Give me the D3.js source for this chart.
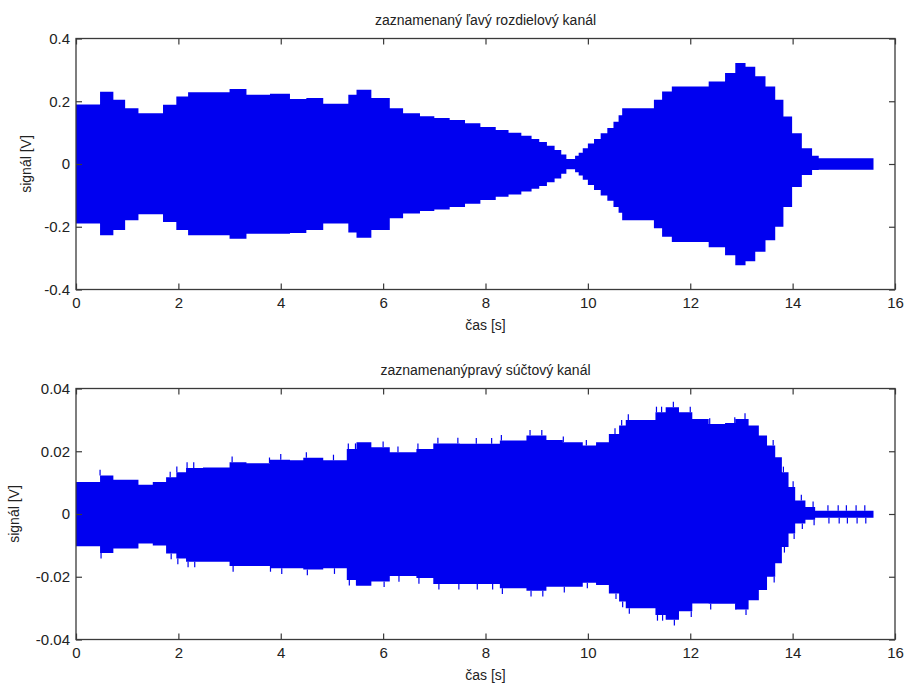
<!DOCTYPE html>
<html>
<head>
<meta charset="utf-8">
<script src="https://cdn.jsdelivr.net/npm/d3@7"></script>
<style>
  body { margin: 0; background: #fff; }
  text { font-family: "Liberation Sans", Arial, Helvetica, sans-serif; fill: #222; }
</style>
</head>
<body>
<div id="chart"></div>
<script>
// envelope breakpoints (step after) - top panel
const timeL = [0, 0.47, 0.73, 0.96, 1.22, 1.7, 1.96, 2.19, 3.0, 3.33, 3.79, 4.18, 4.5, 4.83, 5.32, 5.48, 5.77, 6.13, 6.39, 6.72, 7.0, 7.3, 7.6, 7.9, 8.2, 8.45, 8.7, 8.9, 9.05, 9.2, 9.35, 9.48, 9.58, 9.75, 9.82, 9.9, 10.0, 10.12, 10.25, 10.38, 10.5, 10.6, 10.67, 11.29, 11.45, 11.64, 12.36, 12.68, 12.88, 13.08, 13.27, 13.47, 13.66, 13.82, 13.99, 14.18, 14.38, 14.51, 15.58];
const upperL = [0.19, 0.23, 0.205, 0.178, 0.162, 0.189, 0.215, 0.229, 0.239, 0.221, 0.224, 0.207, 0.21, 0.192, 0.221, 0.237, 0.21, 0.178, 0.162, 0.152, 0.147, 0.14, 0.13, 0.118, 0.108, 0.1, 0.09, 0.08, 0.07, 0.058, 0.045, 0.03, 0.016, 0.026, 0.036, 0.05, 0.065, 0.08, 0.098, 0.115, 0.135, 0.155, 0.178, 0.205, 0.231, 0.247, 0.263, 0.29, 0.322, 0.31, 0.28, 0.247, 0.205, 0.151, 0.098, 0.05, 0.026, 0.018, 0.018];
const lowerL = [-0.19, -0.227, -0.21, -0.179, -0.16, -0.185, -0.21, -0.227, -0.238, -0.222, -0.222, -0.22, -0.21, -0.19, -0.218, -0.235, -0.21, -0.173, -0.158, -0.15, -0.145, -0.137, -0.127, -0.115, -0.104, -0.097, -0.088, -0.079, -0.07, -0.058, -0.046, -0.031, -0.017, -0.026, -0.037, -0.05, -0.067, -0.083, -0.1, -0.117, -0.137, -0.155, -0.179, -0.205, -0.232, -0.249, -0.265, -0.291, -0.323, -0.31, -0.28, -0.243, -0.2, -0.137, -0.073, -0.035, -0.019, -0.018, -0.018];

// bottom panel
const timeS = [0, 0.47, 0.73, 1.22, 1.5, 1.76, 1.96, 2.15, 2.48, 3.0, 3.33, 3.79, 4.18, 4.44, 4.83, 5.29, 5.48, 5.77, 6.13, 6.65, 6.98, 7.5, 8.28, 8.8, 9.19, 9.51, 9.9, 10.16, 10.41, 10.61, 10.74, 11.32, 11.52, 11.78, 12.04, 12.36, 12.68, 12.88, 13.14, 13.34, 13.5, 13.66, 13.79, 13.92, 14.05, 14.25, 14.44, 15.58];
const upperS = [0.0102, 0.0123, 0.0109, 0.0093, 0.0102, 0.0117, 0.0133, 0.0147, 0.0148, 0.0165, 0.0162, 0.0173, 0.0171, 0.0179, 0.0171, 0.0207, 0.0229, 0.0213, 0.0197, 0.0207, 0.0225, 0.0224, 0.0234, 0.025, 0.0236, 0.0229, 0.0218, 0.0229, 0.0255, 0.0282, 0.03, 0.0324, 0.034, 0.0324, 0.0303, 0.0287, 0.029, 0.0303, 0.0282, 0.025, 0.0218, 0.0181, 0.0133, 0.0086, 0.0043, 0.0022, 0.001, 0.001];
const lowerS = [-0.0103, -0.0124, -0.011, -0.0094, -0.01, -0.0126, -0.0142, -0.0152, -0.0152, -0.0166, -0.0166, -0.0173, -0.0173, -0.0177, -0.0173, -0.021, -0.0229, -0.0215, -0.0198, -0.0204, -0.0223, -0.0223, -0.0237, -0.0245, -0.0232, -0.0232, -0.0219, -0.0226, -0.0253, -0.0279, -0.03, -0.0322, -0.0337, -0.031, -0.0285, -0.0286, -0.0286, -0.0304, -0.0275, -0.0242, -0.02, -0.0157, -0.0105, -0.0062, -0.003, -0.0018, -0.0012, -0.0012];
const spikeS = [0.47, 1.84, 1.97, 2.17, 2.3, 3.05, 3.78, 4.0, 4.5, 5.03, 5.32, 5.46, 6.0, 6.29, 6.68, 7.07, 7.46, 7.82, 8.12, 8.31, 8.87, 9.1, 9.52, 9.97, 10.53, 10.66, 10.79, 11.34, 11.44, 11.67, 12.0, 12.38, 12.87, 13.07, 13.62, 13.82, 14.01, 14.17, 14.4, 14.69, 14.89, 15.05, 15.24, 15.41];
const spikeLen = 0.0018;

const xTicks = [0, 2, 4, 6, 8, 10, 12, 14, 16];
const yTicksL = [-0.4, -0.2, 0, 0.2, 0.4];
const yTicksS = [-0.04, -0.02, 0, 0.02, 0.04];

const blue = "#0000f0";
const axisColor = "#3a3a3a";

const svg = d3.select("#chart").append("svg")
  .attr("width", 904).attr("height", 684);

function panel(o) {
  const x = d3.scaleLinear().domain([0, 16]).range([76, 895]);
  const y = d3.scaleLinear().domain([o.yTicks[0], o.yTicks[o.yTicks.length - 1]]).range([o.bottom, o.top]);
  const g = svg.append("g");

  const rows = o.t.map((t, i) => ({ t: t, up: o.up[i], lo: o.lo[i] }));
  g.append("path")
    .datum(rows)
    .attr("fill", blue)
    .attr("d", d3.area()
      .x(d => x(d.t))
      .y0(d => y(d.lo))
      .y1(d => y(d.up))
      .curve(d3.curveStepAfter));

  if (o.spikes) {
    const bis = d3.bisector(d => d).right;
    o.spikes.forEach(s => {
      const i = Math.max(0, bis(o.t, s) - 1);
      g.append("line").attr("x1", x(s)).attr("x2", x(s))
        .attr("y1", y(o.up[i])).attr("y2", y(o.up[i] + spikeLen))
        .attr("stroke", blue).attr("stroke-width", 1.2);
      g.append("line").attr("x1", x(s) + 1).attr("x2", x(s) + 1)
        .attr("y1", y(o.lo[i])).attr("y2", y(o.lo[i] - spikeLen))
        .attr("stroke", blue).attr("stroke-width", 1.2);
    });
  }

  const fmt = d => d === 0 ? "0" : String(d);
  const styleAxis = sel => {
    sel.select(".domain").remove();
    sel.selectAll("line").attr("stroke", axisColor).attr("stroke-width", 1.2);
    sel.selectAll("text").attr("fill", "#222").style("font-size", "15px")
      .attr("font-family", "Liberation Sans, Arial, sans-serif");
  };

  g.append("g").attr("transform", `translate(0,${o.bottom})`)
    .call(d3.axisBottom(x).tickValues(xTicks).tickSize(-6).tickPadding(8).tickFormat(fmt))
    .call(styleAxis);
  g.append("g").attr("transform", `translate(0,${o.top})`)
    .call(d3.axisTop(x).tickValues(xTicks).tickSize(-6).tickFormat(""))
    .call(styleAxis);
  g.append("g").attr("transform", "translate(76,0)")
    .call(d3.axisLeft(y).tickValues(o.yTicks).tickSize(-6).tickPadding(6).tickFormat(fmt))
    .call(styleAxis);
  g.append("g").attr("transform", "translate(895,0)")
    .call(d3.axisRight(y).tickValues(o.yTicks).tickSize(-6).tickFormat(""))
    .call(styleAxis);

  g.append("rect")
    .attr("x", 76).attr("y", o.top)
    .attr("width", 895 - 76).attr("height", o.bottom - o.top)
    .attr("fill", "none").attr("stroke", axisColor).attr("stroke-width", 1.3);

  g.append("text").attr("x", 485.5).attr("y", o.top - 14)
    .attr("text-anchor", "middle").style("font-size", "14px").text(o.title);
  g.append("text").attr("x", 485.5).attr("y", o.bottom + 40)
    .attr("text-anchor", "middle").style("font-size", "14px").text("čas [s]");
  g.append("text")
    .attr("transform", `translate(${o.ylabX},${(o.top + o.bottom) / 2}) rotate(-90)`)
    .attr("text-anchor", "middle").style("font-size", "14px").text("signál [V]");
}

panel({ t: timeL, up: upperL, lo: lowerL, yTicks: yTicksL, top: 38.5, bottom: 289.5,
  title: "zaznamenaný ľavý rozdielový kanál", ylabX: 31 });
panel({ t: timeS, up: upperS, lo: lowerS, spikes: spikeS, yTicks: yTicksS, top: 388.5, bottom: 639.5,
  title: "zaznamenanýpravý súčtový kanál", ylabX: 19 });
</script>
</body>
</html>
